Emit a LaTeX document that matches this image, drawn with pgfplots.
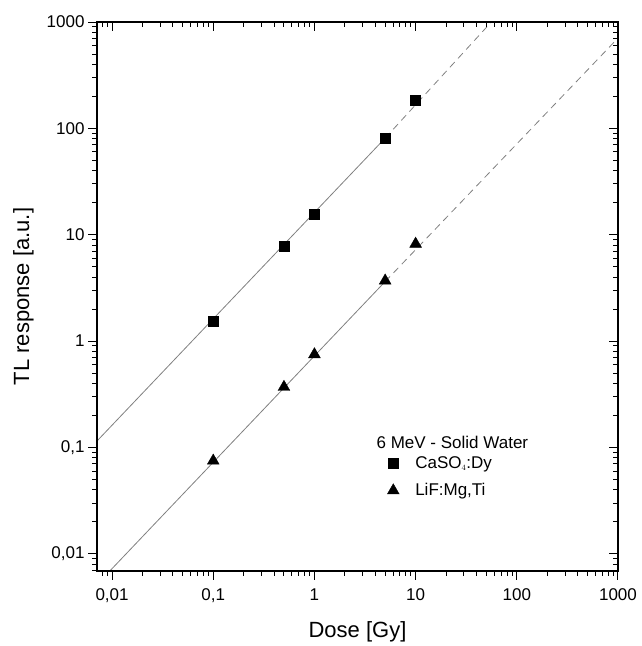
\documentclass[border=0pt]{standalone}
\usepackage{pgfplots}
\pgfplotsset{compat=1.18}
\usepackage{fontspec}
\setmainfont{Liberation Sans}
\begin{document}
\begin{tikzpicture}
% main axis: labels, outward ticks bottom/left
\begin{axis}[
  scale only axis, width=521pt, height=549pt,
  xmode=log, ymode=log,
  xmin=0.0071, xmax=1000, ymin=0.0069, ymax=1000,
  axis line style={line width=1.2pt},
  major tick length=9pt, minor tick length=5pt,
  every tick/.style={black, line width=1pt},
  log ticks with fixed point,
  /pgf/number format/.cd, use comma, 1000 sep={}, assume math mode=true,
  /pgfplots/.cd,
  tick align=outside, xtick pos=bottom, ytick pos=left,
  tick label style={font=\fontsize{17}{20}\selectfont},
  xticklabel style={yshift=-5pt},
  xlabel={Dose [Gy]}, ylabel={TL response [a.u.]},
  label style={font=\fontsize{22}{26}\selectfont},
  xlabel style={yshift=-12pt},
  ylabel style={yshift=6pt},
  legend style={at={(rel axis cs:0.557,0.213)}, anchor=north west,
    draw=none, fill=none, font=\fontsize{17}{20}\selectfont,
    row sep=10pt, inner sep=0pt},
  legend cell align=left,
  legend image code/.code={
    \draw[#1] plot coordinates {(0pt,0pt)};
    \path[draw=none] (0pt,0pt) -- (20pt,0pt);
  },
]
% fit lines
\addplot[gray, line width=0.8pt, forget plot] coordinates {(0.0071,0.115) (5,81)};
\addplot[gray, line width=0.8pt, dash pattern=on 7pt off 5pt, forget plot] coordinates {(5,81) (56,1000)};
\addplot[gray, line width=0.8pt, forget plot] coordinates {(0.0095,0.0069) (5,3.63)};
\addplot[gray, line width=0.8pt, dash pattern=on 7pt off 5pt, forget plot] coordinates {(5,3.63) (1000,706)};

% CaSO4:Dy
\addplot[only marks, mark=square*, mark size=5pt, black] coordinates {
  (0.1,1.55) (0.5,7.8) (1,15.5) (5,80) (10,185)
};
\addlegendentry{CaSO$_{\scriptscriptstyle 4}$:Dy}
% LiF:Mg,Ti
\addplot[only marks, mark=triangle*, mark size=6.8pt, black] coordinates {
  (0.1,0.075) (0.5,0.37) (1,0.75) (5,3.7) (10,8.2)
};
\addlegendentry{LiF:Mg,Ti}

\node[anchor=west, font=\fontsize{17}{20}\selectfont] at (rel axis cs:0.53,0.235) {6 MeV - Solid Water};
\end{axis}
% overlay axis: inward ticks top/right
\begin{axis}[
  scale only axis, width=521pt, height=549pt,
  xmode=log, ymode=log,
  xmin=0.0071, xmax=1000, ymin=0.0069, ymax=1000,
  axis line style={line width=1.2pt},
  major tick length=9pt, minor tick length=5pt,
  every tick/.style={black, line width=1pt},
  tick align=inside, xtick pos=top, ytick pos=right,
  xticklabels={}, yticklabels={},
]
\addplot[draw=none] coordinates {(1,1)};
\end{axis}
\path (current axis.south west) ++(-97pt,-75pt) (current axis.north east) ++(23pt,22pt);
\end{tikzpicture}
\end{document}
